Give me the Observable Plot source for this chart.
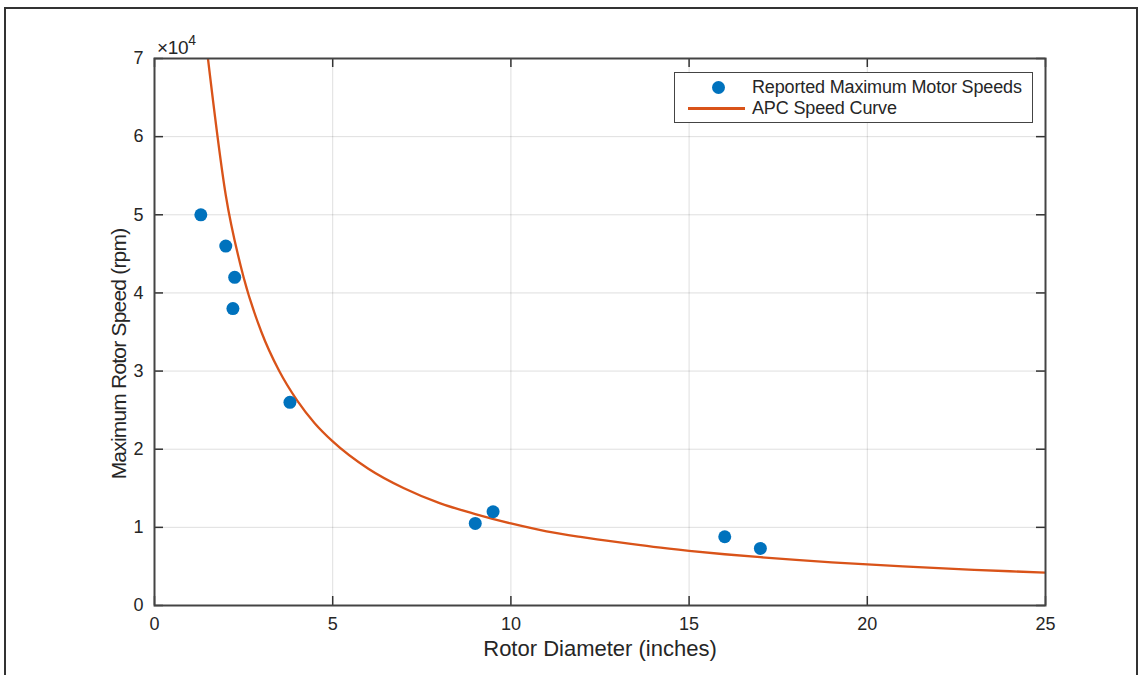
<!DOCTYPE html>
<html>
<head>
<meta charset="utf-8">
<script src="https://cdn.jsdelivr.net/npm/d3@7"></script>
<script src="https://cdn.jsdelivr.net/npm/@observablehq/plot@0.6"></script>
<style>
  html, body { margin: 0; padding: 0; background: #fff; }
  #wrap { position: relative; width: 1143px; height: 675px; overflow: hidden; font-family: "Liberation Sans", Arial, sans-serif; color: #262626; }
  #border { position: absolute; left: 4px; top: 7px; width: 1134px; height: 700px; border: 2px solid #333; box-sizing: border-box; pointer-events: none; }
  #exp { position: absolute; left: 157px; top: 34px; font-size: 19px; letter-spacing: -0.3px; }
  #exp sup { font-size: 14px; position: relative; top: -2px; }
  #legend { position: absolute; left: 674px; top: 72px; width: 359px; height: 51px; box-sizing: border-box; border: 1.5px solid #444; background: #fff; font-size: 18px; letter-spacing: -0.15px; }
  .row { position: absolute; left: 0; height: 20px; width: 100%; }
  .row .lbl { position: absolute; left: 77px; top: 0; line-height: 20px; white-space: nowrap; }
  .dot { position: absolute; left: 37px; top: 3.5px; width: 13px; height: 13px; border-radius: 50%; background: #0072BD; }
  .seg { position: absolute; left: 13px; top: 9px; width: 57px; height: 2.5px; background: #D95319; }
  .ylab { letter-spacing: -0.8px; }
</style>
</head>
<body>
<div id="wrap">
  <div id="chart"></div>
  <div id="exp">×10<sup>4</sup></div>
  <div id="legend"></div>
  <div id="border"></div>
</div>
<script>
// Reported maximum motor speeds
const diameters = [1.3, 2.0, 2.25, 2.2, 3.8, 9.0, 9.5, 16.0, 17.0];
const speeds    = [50000, 46000, 42000, 38000, 26000, 10500, 12000, 8800, 7300];

// APC speed curve
const curveD   = [1.5, 2, 2.5, 3, 3.5, 4, 4.5, 5, 6, 7, 8, 9, 10, 11, 12, 13, 14, 15, 16, 17, 18, 19, 20, 21, 22, 23, 24, 25];
const curveRPM = [70000, 52500, 42000, 35000, 30000, 26250, 23300, 21000, 17500, 15000, 13100, 11700, 10500, 9500, 8750, 8100, 7500, 7000, 6560, 6180, 5830, 5530, 5250, 5000, 4770, 4570, 4380, 4200];

const xTicks = [0, 5, 10, 15, 20, 25];
const yTicks = [0, 10000, 20000, 30000, 40000, 50000, 60000, 70000];

const seriesNames = ["Reported Maximum Motor Speeds", "APC Speed Curve"];
const xLabel = "Rotor Diameter (inches)";
const yLabel = "Maximum Rotor Speed (rpm)";

const points = diameters.map((d, i) => ({d, rpm: speeds[i]}));
const curve = curveD.map((d, i) => ({d, rpm: curveRPM[i]}));

const W = 1143, H = 675;
const mL = 154, mR = 98, mT = 58, mB = 70;
const pw = W - mL - mR, ph = H - mT - mB;
const tl = 9;

const chart = Plot.plot({
  width: W, height: H,
  marginLeft: mL, marginRight: mR, marginTop: mT, marginBottom: mB,
  style: { fontFamily: "'Liberation Sans', Arial, sans-serif", fontSize: "18px", color: "#262626", background: "#fff" },
  x: { domain: [0, 25] },
  y: { domain: [0, 70000] },
  marks: [
    Plot.gridX(xTicks, { stroke: "#000", strokeOpacity: 0.13, strokeWidth: 1 }),
    Plot.gridY(yTicks, { stroke: "#000", strokeOpacity: 0.13, strokeWidth: 1 }),
    // inward tick marks on all four sides
    Plot.ruleX(xTicks, { x: d => d, insetTop: ph - tl, stroke: "#333", strokeWidth: 1.5 }),
    Plot.ruleX(xTicks, { x: d => d, insetBottom: ph - tl, stroke: "#333", strokeWidth: 1.5 }),
    Plot.ruleY(yTicks, { y: d => d, insetRight: pw - tl, stroke: "#333", strokeWidth: 1.5 }),
    Plot.ruleY(yTicks, { y: d => d, insetLeft: pw - tl, stroke: "#333", strokeWidth: 1.5 }),
    Plot.axisX(xTicks, { tickSize: 0, tickPadding: 12, label: null, fontSize: 18 }),
    Plot.axisY(yTicks, { tickSize: 0, tickPadding: 11, label: null, fontSize: 18, tickFormat: d => String(d / 10000) }),
    Plot.line(curve, { x: "d", y: "rpm", stroke: "#D95319", strokeWidth: 2.3, curve: "monotone-x", clip: true }),
    Plot.dot(points, { x: "d", y: "rpm", r: 6.5, fill: "#0072BD", stroke: "none" }),
    Plot.frame({ stroke: "#444", strokeWidth: 2 }),
    Plot.text([xLabel], { frameAnchor: "bottom", dy: 43, fontSize: 22, fill: "#262626", text: d => d, textAnchor: "middle", lineAnchor: "middle" }),
    Plot.text([yLabel], { frameAnchor: "left", dx: -35, dy: 22, rotate: -90, fontSize: 21, fill: "#262626", text: d => d, textAnchor: "middle", lineAnchor: "middle", className: "ylab" })
  ]
});
document.getElementById("chart").appendChild(chart);

// Legend
const legend = document.getElementById("legend");
const r1 = document.createElement("div"); r1.className = "row"; r1.style.top = "4px";
r1.innerHTML = '<div class="dot"></div><div class="lbl"></div>';
r1.querySelector(".lbl").textContent = seriesNames[0];
const r2 = document.createElement("div"); r2.className = "row"; r2.style.top = "25px";
r2.innerHTML = '<div class="seg"></div><div class="lbl"></div>';
r2.querySelector(".lbl").textContent = seriesNames[1];
legend.appendChild(r1); legend.appendChild(r2);
</script>
</body>
</html>
